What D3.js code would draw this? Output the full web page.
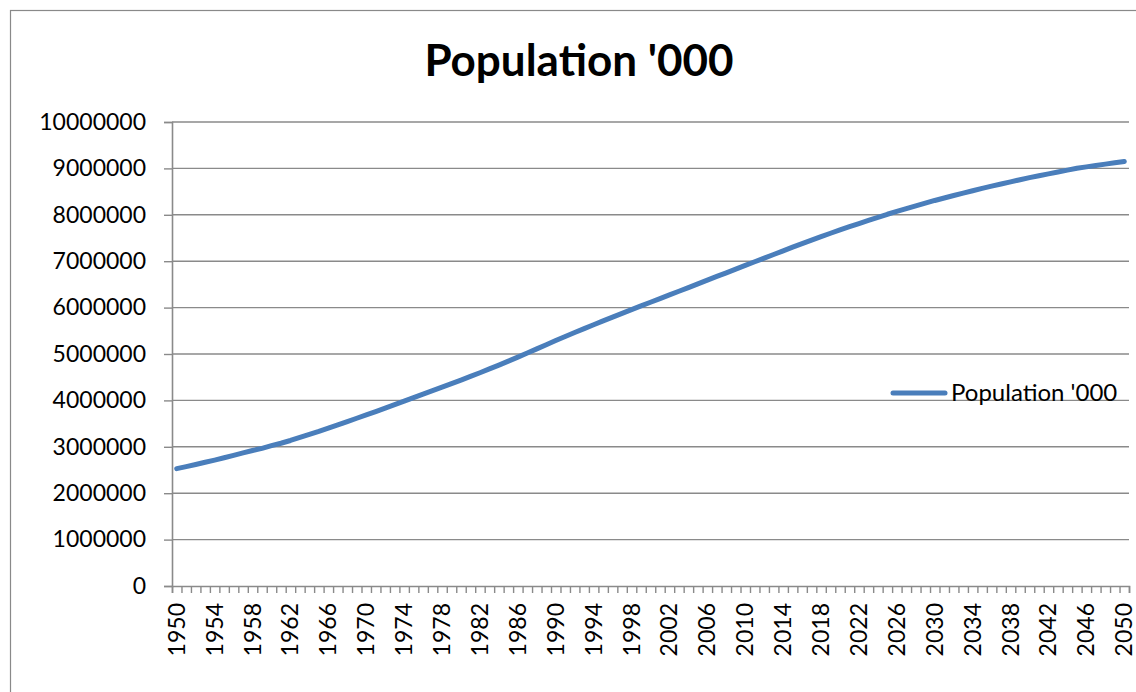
<!DOCTYPE html>
<html>
<head>
<meta charset="utf-8">
<script src="https://cdn.jsdelivr.net/npm/d3@7"></script>
<style>
  body { margin: 0; background: #fff; }
  svg { display: block; font-family: Lato, "Open Sans", sans-serif; }
</style>
</head>
<body>
<div class="chart"></div>
<script>
// Population '000 line chart
var svgWidth = 1136;
var svgHeight = 692;

var margin = { top: 122, right: 7, bottom: 106, left: 172 };
var width = svgWidth - margin.left - margin.right;
var height = svgHeight - margin.top - margin.bottom;

var seriesName = "Population '000";
var years = d3.range(1950, 2051);
var population = [
  2529346, 2572851, 2619292, 2665865, 2713172, 2763453, 2814412, 2867543, 2920484, 2966020,
  3023358, 3076484, 3135905, 3202037, 3267243, 3331670, 3401160, 3471285, 3542978, 3615735,
  3685777, 3759819, 3833683, 3908206, 3984260, 4061317, 4135789, 4209823, 4284925, 4360941,
  4437609, 4516168, 4596883, 4678656, 4761602, 4846247, 4933226, 5021795, 5110829, 5200658,
  5290452, 5376806, 5462047, 5545949, 5629848, 5713073, 5795044, 5876111, 5956151, 6035734,
  6115367, 6194487, 6273385, 6352106, 6431145, 6512276, 6592355, 6671226, 6750062, 6829360,
  6908688, 6987253, 7066196, 7144842, 7223487, 7302186, 7378430, 7454022, 7529138, 7602563,
  7674833, 7743100, 7811000, 7877500, 7944000, 8011533, 8072000, 8132000, 8191000, 8250000,
  8308895, 8362000, 8415000, 8467000, 8519000, 8570492, 8617000, 8664000, 8710000, 8756000,
  8801115, 8842000, 8883000, 8923000, 8963000, 9002238, 9033000, 9063000, 9092000, 9121000,
  9149984
];
var yTicks = d3.range(0, 10000001, 1000000);
var xLabelYears = years.filter(function (y) { return (y - 1950) % 4 === 0; });

var data = years.map(function (y, i) { return { year: y, value: population[i] }; });

var svg = d3.select(".chart")
  .append("svg")
  .attr("width", svgWidth)
  .attr("height", svgHeight);

// chart area border
svg.append("rect")
  .attr("x", 10.5)
  .attr("y", 10.5)
  .attr("width", 1140)
  .attr("height", 700)
  .attr("fill", "none")
  .attr("stroke", "#898989")
  .attr("stroke-width", 1.2);

svg.append("text")
  .attr("x", 579)
  .attr("y", 76)
  .attr("text-anchor", "middle")
  .attr("font-size", 44)
  .attr("font-weight", "bold")
  .attr("fill", "#000")
  .text(seriesName);

var chartGroup = svg.append("g")
  .attr("transform", `translate(${margin.left}, ${margin.top})`);

// categories sit between the tick marks
var xScale = d3.scaleBand()
  .domain(years)
  .range([0, width])
  .padding(0);

var tickScale = d3.scaleLinear()
  .domain([0, years.length])
  .range([0, width]);

var yScale = d3.scaleLinear()
  .domain([0, 10000000])
  .range([height, 0]);

// gridlines
chartGroup.append("g")
  .selectAll("line")
  .data(yTicks.filter(function (d) { return d > 0; }))
  .enter()
  .append("line")
  .attr("x1", 0)
  .attr("x2", width)
  .attr("y1", d => yScale(d))
  .attr("y2", d => yScale(d))
  .attr("stroke", "#8a8a8a")
  .attr("stroke-width", 1.4);

// y axis
var leftAxis = d3.axisLeft(yScale)
  .tickValues(yTicks)
  .tickSize(8)
  .tickPadding(18)
  .tickFormat(d3.format("d"));

var yAxisG = chartGroup.append("g").call(leftAxis);
yAxisG.select(".domain").attr("stroke", "#8a8a8a").attr("stroke-width", 1.6);
yAxisG.selectAll(".tick line").attr("stroke", "#8a8a8a").attr("stroke-width", 1.4);
yAxisG.selectAll(".tick text")
  .attr("font-size", 23)
  .attr("font-family", "Lato, sans-serif")
  .attr("fill", "#000");

// x axis: tick marks between categories, labels every 4 years
var bottomAxis = d3.axisBottom(tickScale)
  .tickValues(d3.range(0, years.length + 1))
  .tickSize(7)
  .tickFormat("");

var xAxisG = chartGroup.append("g")
  .attr("transform", `translate(0, ${height})`)
  .call(bottomAxis);
xAxisG.select(".domain").attr("stroke", "#8a8a8a").attr("stroke-width", 1.6);
xAxisG.selectAll(".tick line").attr("stroke", "#8a8a8a").attr("stroke-width", 1.4);

chartGroup.append("g")
  .selectAll("text")
  .data(xLabelYears)
  .enter()
  .append("text")
  .attr("transform", d => `translate(${xScale(d) + xScale.bandwidth() / 2 + 8}, ${height + 17}) rotate(-90)`)
  .attr("text-anchor", "end")
  .attr("font-size", 23)
  .attr("fill", "#000")
  .text(d => d);

// population line
var line = d3.line()
  .x(d => xScale(d.year) + xScale.bandwidth() / 2)
  .y(d => yScale(d.value));

chartGroup.append("path")
  .datum(data)
  .attr("fill", "none")
  .attr("stroke", "#4a7ebb")
  .attr("stroke-width", 5)
  .attr("stroke-linecap", "round")
  .attr("stroke-linejoin", "round")
  .attr("d", line);

// legend
svg.append("line")
  .attr("x1", 893)
  .attr("x2", 945)
  .attr("y1", 393)
  .attr("y2", 393)
  .attr("stroke", "#4a7ebb")
  .attr("stroke-width", 5)
  .attr("stroke-linecap", "round");

svg.append("text")
  .attr("x", 951)
  .attr("y", 401)
  .attr("font-size", 24)
  .attr("fill", "#000")
  .text(seriesName);
</script>
</body>
</html>
